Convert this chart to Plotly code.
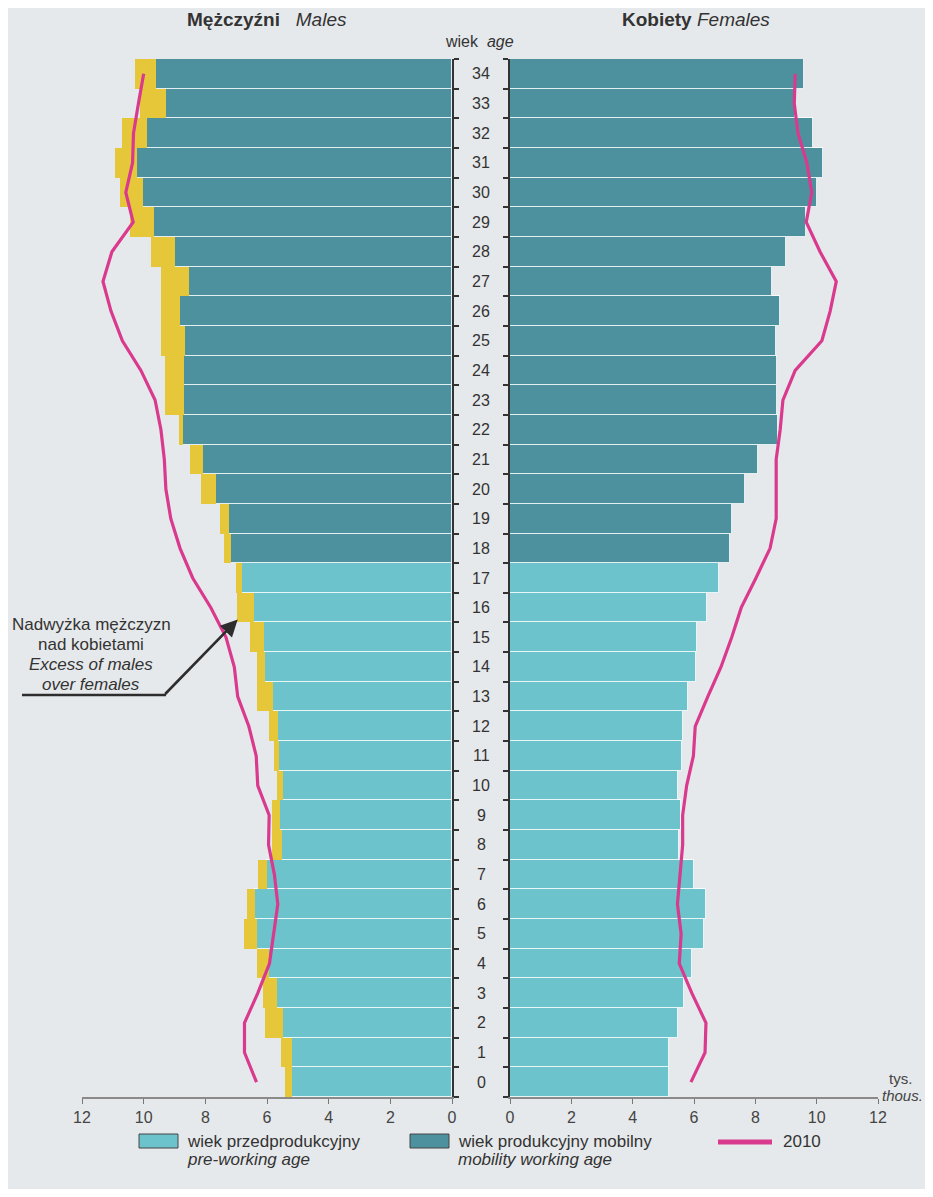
import plotly.graph_objects as go

# ---------------- data (thousands) ----------------
ages = list(range(35))
females = [5.19, 5.19, 5.47, 5.69, 5.94, 6.31, 6.38, 6.00, 5.51, 5.57,
           5.49, 5.60, 5.65, 5.80, 6.06, 6.09, 6.43, 6.82, 7.18, 7.23,
           7.67, 8.08, 8.73, 8.70, 8.70, 8.67, 8.81, 8.54, 9.00, 9.66,
           10.01, 10.22, 9.88, 9.29, 9.59]
males = [5.42, 5.54, 6.05, 6.14, 6.33, 6.73, 6.66, 6.30, 5.83, 5.83,
         5.67, 5.78, 5.92, 6.32, 6.32, 6.54, 6.97, 7.00, 7.41, 7.54,
         8.14, 8.49, 8.87, 9.30, 9.30, 9.44, 9.44, 9.44, 9.77, 10.44,
         10.77, 10.93, 10.71, 10.12, 10.29]
males_2010 = [6.34, 6.73, 6.73, 6.30, 5.92, 5.79, 5.65, 5.76, 5.95, 5.93,
              6.30, 6.35, 6.59, 6.95, 7.06, 7.33, 7.82, 8.41, 8.82, 9.12,
              9.28, 9.33, 9.44, 9.63, 10.09, 10.69, 11.06, 11.32, 11.03, 10.34,
              10.58, 10.36, 10.33, 10.17, 10.00]
females_2010 = [5.90, 6.36, 6.39, 5.93, 5.52, 5.58, 5.46, 5.55, 5.63, 5.63,
                5.76, 5.98, 6.04, 6.45, 6.88, 7.23, 7.54, 8.02, 8.48, 8.68,
                8.67, 8.68, 8.81, 8.90, 9.30, 10.17, 10.44, 10.64, 10.11, 9.66,
                9.84, 9.68, 9.39, 9.27, 9.30]
working_age_start = 18
x_ticks = [0, 2, 4, 6, 8, 10, 12]

# ---------------- styles ----------------
OFF = 8                      # page body margin
W, H = 933 - 2 * OFF, 1197 - 2 * OFF
BG = "#e6e9eb"
C_PRE = "#6cc3cb"
C_MOB = "#4d919f"
C_EXC = "#e7c73a"
C_LINE = "#d93a8e"
TXT = "#333333"
FONT = "Liberation Sans, Arial, sans-serif"


def px(x):
    return (x - OFF) / W


def py(y):
    return 1 - (y - OFF) / H


pre_idx = [i for i, a in enumerate(ages) if a < working_age_start]
mob_idx = [i for i, a in enumerate(ages) if a >= working_age_start]
excess = [m - f for m, f in zip(males, females)]

fig = go.Figure()
sep = dict(color="rgba(255,255,255,0.85)", width=1)

for side, xa, ya in (("m", "x", "y"), ("f", "x2", "y2")):
    for idx, col in ((pre_idx, C_PRE), (mob_idx, C_MOB)):
        fig.add_trace(go.Bar(
            y=[ages[i] for i in idx], x=[females[i] for i in idx],
            orientation="h", width=1, marker=dict(color=col, line=sep),
            xaxis=xa, yaxis=ya, showlegend=False, hoverinfo="skip"))
    if side == "m":
        fig.add_trace(go.Bar(
            y=ages, x=excess, orientation="h", width=1,
            marker=dict(color=C_EXC, line=dict(width=0)),
            xaxis=xa, yaxis=ya, showlegend=False, hoverinfo="skip"))

fig.add_trace(go.Scatter(x=males_2010, y=ages, mode="lines",
                         line=dict(color=C_LINE, width=3.2),
                         xaxis="x", yaxis="y", showlegend=False, hoverinfo="skip"))
fig.add_trace(go.Scatter(x=females_2010, y=ages, mode="lines",
                         line=dict(color=C_LINE, width=3.2),
                         xaxis="x2", yaxis="y2", showlegend=False, hoverinfo="skip"))

y_dom = [py(1097), py(59)]
xcommon = dict(tickvals=x_ticks, ticks="outside", ticklen=5, tickwidth=1.2,
               tickcolor="#777", showline=True, linecolor="#8a8a8a", linewidth=2,
               showgrid=False, zeroline=False, fixedrange=True,
               tickfont=dict(size=16, color="#444", family=FONT))
ycommon = dict(range=[-0.5, 34.5], showline=True, linecolor="#333", linewidth=2,
               showgrid=False, zeroline=False, showticklabels=False,
               tickmode="linear", tick0=0.5, dtick=1, ticks="outside",
               ticklen=5, tickwidth=1.5, tickcolor="#333", fixedrange=True,
               domain=y_dom)

fig.update_layout(
    width=W, height=H,
    margin=dict(l=0, r=0, t=0, b=0, autoexpand=False),
    paper_bgcolor=BG, plot_bgcolor=BG,
    barmode="stack", bargap=0,
    font=dict(family=FONT, color=TXT),
    xaxis=dict(domain=[px(82), px(452)], range=[12, 0], anchor="y", **xcommon),
    yaxis=dict(anchor="x", side="right", **ycommon),
    xaxis2=dict(domain=[px(510), px(878)], range=[0, 12], anchor="y2", **xcommon),
    yaxis2=dict(anchor="x2", side="left", **ycommon),
)


def note_ann(x, y, text, size, anchor="center", color=TXT):
    return dict(x=px(x), y=py(y), xref="paper", yref="paper", showarrow=False,
                xanchor=anchor, yanchor="middle", text=text,
                font=dict(size=size, color=color))


ann = []
# age labels in the middle gap
for a in ages:
    ann.append(dict(x=px(481), xref="paper", y=a, yref="y", text=str(a),
                    xanchor="center", showarrow=False,
                    font=dict(size=16, color=TXT)))
# titles
ann.append(note_ann(267, 20, "<b>Mężczyźni</b>   <i>Males</i>", 19))
ann.append(note_ann(696, 20, "<b>Kobiety</b> <i>Females</i>", 19))
ann.append(note_ann(479, 42, "wiek  <i>age</i>", 16))
# unit
ann.append(note_ann(887, 1078, "tys.", 15, "left", "#444"))
ann.append(note_ann(880, 1095, "<i>thous.</i>", 15, "left", "#444"))
# excess note
note = [("Nadwyżka mężczyzn", False, 624), ("nad kobietami", False, 644),
        ("Excess of males", True, 664), ("over females", True, 684)]
for t, it, yy in note:
    ann.append(note_ann(91, yy, f"<i>{t}</i>" if it else t, 17))
ann.append(dict(x=6.95, y=15.6, xref="x", yref="y", ax=-74, ay=76,
                showarrow=True, arrowhead=2, arrowsize=1.3, arrowwidth=2.6,
                arrowcolor="#2d2d2d", text=""))
# legend (drawn manually)
leg = [(139, C_PRE, "wiek przedprodukcyjny", "pre-working age"),
       (410, C_MOB, "wiek produkcyjny mobilny", "mobility working age")]
shapes = [dict(type="line", xref="paper", yref="paper", x0=px(22), x1=px(166),
               y0=py(695), y1=py(695), line=dict(color="#2d2d2d", width=2.6))]
for x0, col, t1, t2 in leg:
    shapes.append(dict(type="rect", xref="paper", yref="paper",
                       x0=px(x0), x1=px(x0 + 39), y0=py(1148), y1=py(1134),
                       fillcolor=col, line=dict(color="#444", width=1)))
    ann.append(note_ann(x0 + 46, 1141, t1, 17, "left"))
    ann.append(note_ann(x0 + 46, 1159, f"<i>{t2}</i>", 17, "left"))
shapes.append(dict(type="line", xref="paper", yref="paper", x0=px(718), x1=px(772),
                   y0=py(1142), y1=py(1142), line=dict(color=C_LINE, width=5)))
ann.append(note_ann(781, 1141, "2010", 17, "left"))

fig.update_layout(annotations=ann, shapes=shapes)
fig.write_html("out.html")
